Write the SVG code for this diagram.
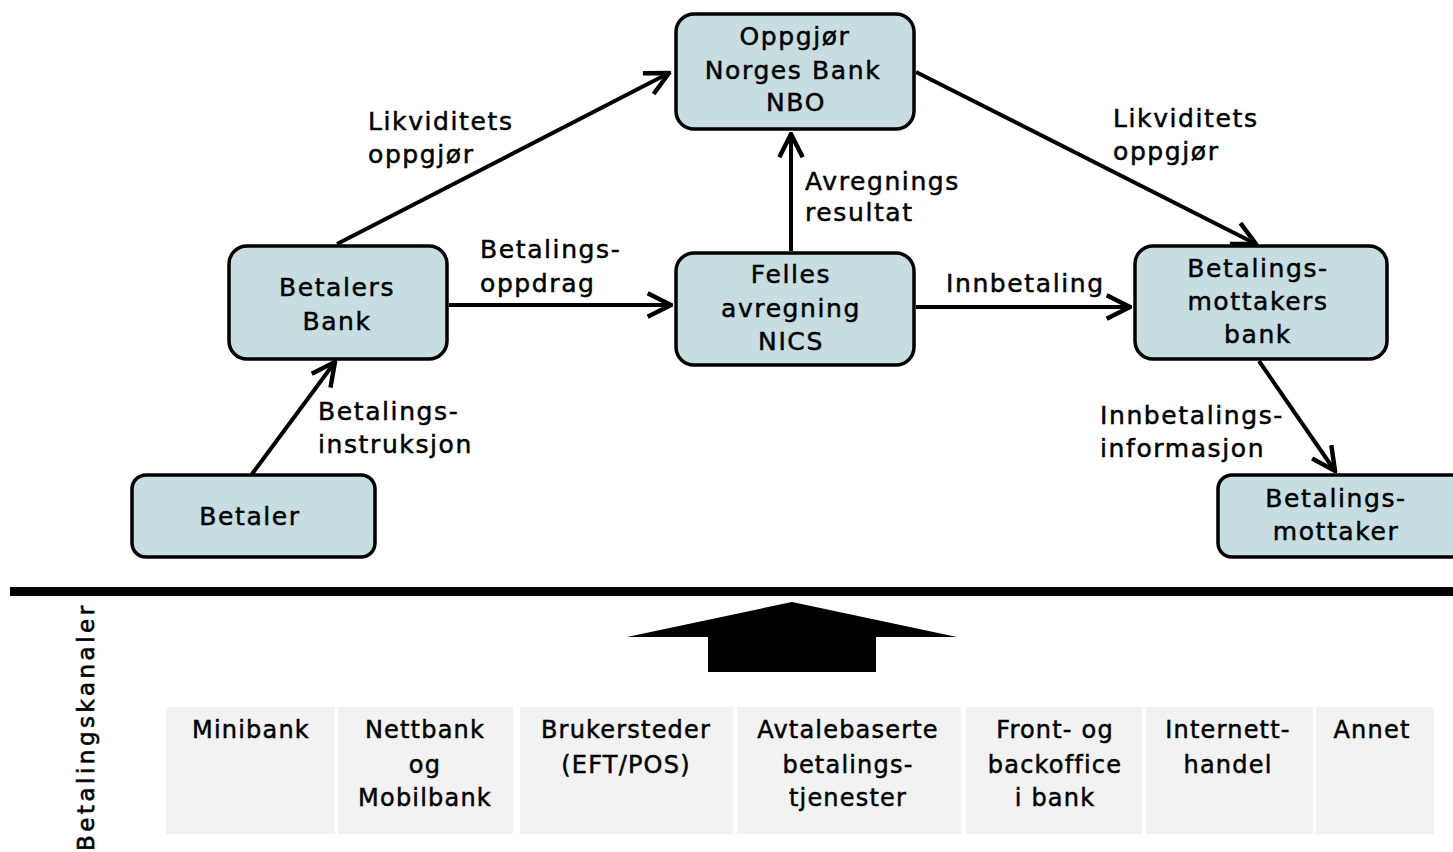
<svg xmlns="http://www.w3.org/2000/svg" width="1453" height="852" viewBox="0 0 1453 852">
<style>
.node{fill:#c7dde1;stroke:#000;stroke-width:3.5}
.t{font-family:"DejaVu Sans",Verdana,sans-serif;font-size:25px;fill:#000;stroke:#000;stroke-width:0.5;letter-spacing:1.6px}
.c{text-anchor:middle}
.con{stroke:#000;stroke-width:4;fill:none;marker-end:url(#ah)}
.ch{fill:#f2f2f2}
.b{font-family:"DejaVu Sans",Verdana,sans-serif;font-size:24px;fill:#000;stroke:#000;stroke-width:0.5;text-anchor:middle;letter-spacing:1.2px}
</style>
<defs>
<marker id="ah" viewBox="0 0 12 12" refX="11" refY="6" markerWidth="28" markerHeight="28" markerUnits="userSpaceOnUse" orient="auto">
<path d="M1,1 L11,6 L1,11" fill="none" stroke="#000" stroke-width="1.9"/>
</marker>
</defs>
<rect width="1453" height="852" fill="#fff"/>
<g id="connectors">
<line class="con" x1="337" y1="244" x2="669" y2="73"/>
<line class="con" x1="449" y1="305" x2="671" y2="305"/>
<line class="con" x1="791" y1="251" x2="791" y2="134"/>
<line class="con" x1="916" y1="72" x2="1256" y2="244"/>
<line class="con" x1="916" y1="307" x2="1130" y2="307"/>
<line class="con" x1="252" y1="474" x2="335" y2="362"/>
<line class="con" x1="1259" y1="361" x2="1335" y2="471"/>
</g>
<g id="labels">
<text class="t" x="368" y="130">Likviditets</text>
<text class="t" x="368" y="163">oppgjør</text>
<text class="t" x="480" y="258">Betalings-</text>
<text class="t" x="480" y="292">oppdrag</text>
<text class="t" x="805" y="190">Avregnings</text>
<text class="t" x="805" y="221">resultat</text>
<text class="t" x="1113" y="127">Likviditets</text>
<text class="t" x="1113" y="160">oppgjør</text>
<text class="t" x="946" y="292">Innbetaling</text>
<text class="t" x="318" y="420">Betalings-</text>
<text class="t" x="318" y="453">instruksjon</text>
<text class="t" x="1100" y="424">Innbetalings-</text>
<text class="t" x="1100" y="457">informasjon</text>
</g>
<g id="nbo">
<rect class="node" x="676" y="14" width="238" height="115" rx="18"/>
<text class="t c" x="795" y="45">Oppgjør</text>
<text class="t c" x="793" y="79">Norges Bank</text>
<text class="t c" x="796" y="111">NBO</text>
</g>
<g id="betalers-bank">
<rect class="node" x="229" y="246" width="218" height="113" rx="18"/>
<text class="t c" x="337" y="296">Betalers</text>
<text class="t c" x="337" y="330">Bank</text>
</g>
<g id="nics">
<rect class="node" x="676" y="253" width="238" height="112" rx="18"/>
<text class="t c" x="791" y="283">Felles</text>
<text class="t c" x="791" y="317">avregning</text>
<text class="t c" x="791" y="350">NICS</text>
</g>
<g id="mottakers-bank">
<rect class="node" x="1135" y="246" width="252" height="113" rx="18"/>
<text class="t c" x="1258" y="277">Betalings-</text>
<text class="t c" x="1258" y="310">mottakers</text>
<text class="t c" x="1258" y="343">bank</text>
</g>
<g id="betaler">
<rect class="node" x="132" y="475" width="243" height="82" rx="14"/>
<text class="t c" x="250" y="525">Betaler</text>
</g>
<g id="mottaker">
<rect class="node" x="1218" y="475" width="250" height="82" rx="14"/>
<text class="t c" x="1336" y="507">Betalings-</text>
<text class="t c" x="1336" y="540">mottaker</text>
</g>
<g id="divider">
<rect x="10" y="587" width="1443" height="9" fill="#000"/>
<polygon points="627,637 792,602 957,637 876,637 876,672 708,672 708,637" fill="#000"/>
<text font-family="DejaVu Sans,Verdana,sans-serif" font-size="23" letter-spacing="3.5" stroke="#000" stroke-width="0.6" transform="translate(94,851) rotate(-90)">Betalingskanaler</text>
</g>
<g id="channels">
<rect class="ch" x="166" y="707" width="169" height="127"/>
<rect class="ch" x="338" y="707" width="175" height="127"/>
<rect class="ch" x="520" y="707" width="213" height="127"/>
<rect class="ch" x="737" y="707" width="224" height="127"/>
<rect class="ch" x="966" y="707" width="176" height="127"/>
<rect class="ch" x="1146" y="707" width="167" height="127"/>
<rect class="ch" x="1316" y="707" width="118" height="127"/>
<text class="b" x="251" y="738">Minibank</text>
<text class="b" x="425" y="738">Nettbank</text>
<text class="b" x="425" y="773">og</text>
<text class="b" x="425" y="806">Mobilbank</text>
<text class="b" x="626" y="738">Brukersteder</text>
<text class="b" x="626" y="773">(EFT/POS)</text>
<text class="b" x="848" y="738">Avtalebaserte</text>
<text class="b" x="848" y="773">betalings-</text>
<text class="b" x="848" y="806">tjenester</text>
<text class="b" x="1055" y="738">Front- og</text>
<text class="b" x="1055" y="773">backoffice</text>
<text class="b" x="1055" y="806">i bank</text>
<text class="b" x="1228" y="738">Internett-</text>
<text class="b" x="1228" y="773">handel</text>
<text class="b" x="1372" y="738">Annet</text>
</g>
</svg>
